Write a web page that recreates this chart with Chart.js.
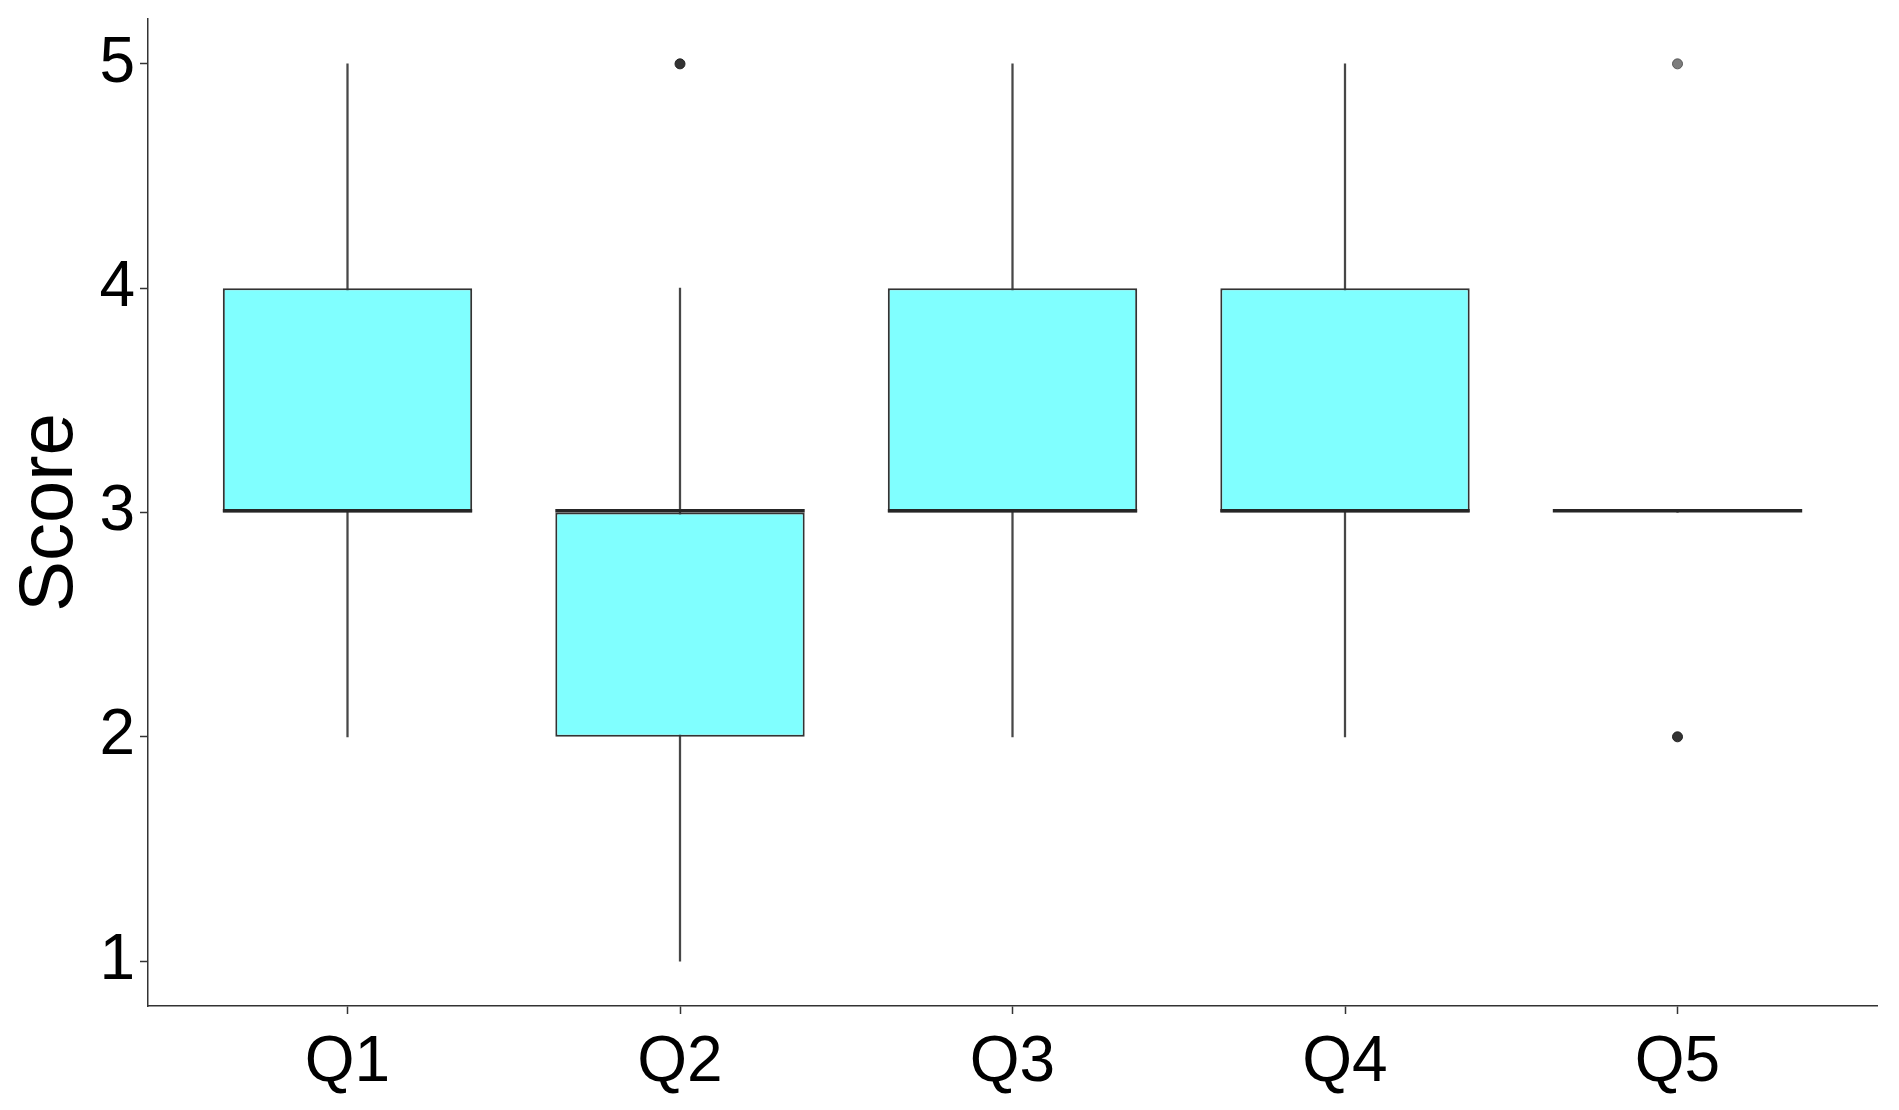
<!DOCTYPE html>
<html>
<head>
<meta charset="utf-8">
<script src="https://cdn.jsdelivr.net/npm/chart.js@4/dist/chart.umd.min.js"></script>
<style>
  body { margin: 0; background: #fff; }
  canvas { display: block; }
</style>
</head>
<body>
<canvas id="myChart" width="1899" height="1110"></canvas>
<script>
// box plot of scores per question
const categories = ['Q1', 'Q2', 'Q3', 'Q4', 'Q5'];
const whiskerLow = [2, 1, 2, 2, 3];
const boxLow = [3, 2, 3, 3, 3];
const medians = [3, 3, 3, 3, 3];
const boxHigh = [4, 3, 4, 4, 3];
const whiskerHigh = [5, 4, 5, 5, 3];
const outliersHigh = [null, 5, null, null, 5];
const outliersLow = [null, null, null, null, 2];
const yTicks = [1, 2, 3, 4, 5];

const font = "'Liberation Sans', Arial, sans-serif";
const axisColor = '#333333';

const pairs = (a, b) => categories.map((c, i) => ({ x: i, y: [a[i], b[i]] }));
const points = arr => arr.map((v, i) => ({ x: i, y: v })).filter(p => p.y !== null);

const ctx = document.getElementById('myChart');

new Chart(ctx, {
  type: 'bar',
  data: {
    datasets: [
      {
        type: 'scatter',
        data: points(outliersHigh),
        pointRadius: 5,
        pointBorderWidth: 1,
        pointBackgroundColor: ['#333333', '#7d7d7d'],
        pointBorderColor: ['#222222', '#5a5a5a'],
        order: 0
      },
      {
        type: 'scatter',
        data: points(outliersLow),
        pointRadius: 5,
        pointBorderWidth: 1,
        pointBackgroundColor: '#333333',
        pointBorderColor: '#222222',
        order: 0
      },
      {
        // median line
        data: pairs(medians, medians),
        backgroundColor: '#262626',
        borderWidth: 0,
        minBarLength: 3.5,
        grouped: false,
        categoryPercentage: 1,
        barPercentage: 0.75,
        order: 1
      },
      {
        // box
        data: pairs(boxLow, boxHigh),
        backgroundColor: '#80ffff',
        borderColor: axisColor,
        borderWidth: 2,
        borderSkipped: false,
        grouped: false,
        categoryPercentage: 1,
        barPercentage: 0.75,
        order: 2
      },
      {
        // whisker
        data: pairs(whiskerLow, whiskerHigh),
        backgroundColor: '#474747',
        borderWidth: 0,
        barThickness: 1.6,
        grouped: false,
        order: 3
      }
    ]
  },
  options: {
    responsive: false,
    animation: false,
    events: [],
    layout: { padding: { left: 0, top: 19, right: 22, bottom: 0 } },
    plugins: { legend: { display: false }, tooltip: { enabled: false } },
    scales: {
      x: {
        type: 'linear',
        min: -0.6,
        max: 4.6,
        offset: false,
        afterBuildTicks: s => { s.ticks = categories.map((c, i) => ({ value: i })); },
        afterFit: s => { s.height = 104; s.paddingLeft = 0; s.paddingRight = 0; },
        grid: { display: true, offset: false, drawOnChartArea: false, tickLength: 8, tickColor: axisColor, tickWidth: 1.5 },
        border: { display: true, color: axisColor, width: 1.5 },
        ticks: {
          color: '#000',
          padding: 11,
          maxRotation: 0,
          font: { family: font, size: 64 },
          callback: v => categories[v]
        }
      },
      y: {
        min: 0.8,
        max: 5.2,
        afterBuildTicks: s => { s.ticks = yTicks.map(v => ({ value: v })); },
        afterFit: s => { s.width = 148; s.paddingTop = 0; s.paddingBottom = 0; },
        grid: { display: true, drawOnChartArea: false, tickLength: 8, tickColor: axisColor, tickWidth: 1.5 },
        border: { display: true, color: axisColor, width: 1.5 },
        ticks: {
          color: '#000',
          padding: 5,
          font: { family: font, size: 64 }
        },
        title: {
          display: true,
          text: 'Score',
          color: '#000',
          padding: { top: 5, bottom: 0 },
          font: { family: font, size: 76 }
        }
      }
    }
  }
});
</script>
</body>
</html>
